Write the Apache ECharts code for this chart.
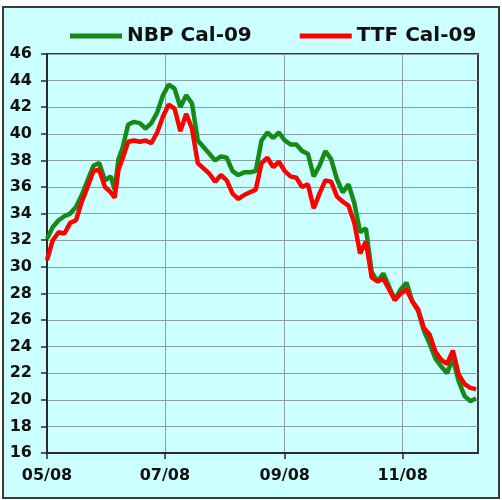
<!DOCTYPE html>
<html>
<head>
<meta charset="utf-8">
<script src="https://cdn.jsdelivr.net/npm/echarts@6/dist/echarts.min.js"></script>
<style>
  html, body { margin: 0; padding: 0; background: #ffffff; }
  #wrap { position: relative; width: 502px; height: 500px; background: #ffffff; }
  #frame { position: absolute; left: 2px; top: 6px; width: 494px; height: 489px;
           background: #ccffff; border: 2px solid #3a3a3a; }
  #chart { position: absolute; left: 0; top: 0; width: 502px; height: 500px; }
</style>
</head>
<body>
<div id="wrap">
  <div id="frame"></div>
  <div id="chart"></div>
</div>
<script>
// Forward prices for calendar-2009 gas, NBP vs TTF
const dates = [
  '2008-05-01','2008-05-04','2008-05-07','2008-05-10','2008-05-13','2008-05-16','2008-05-19','2008-05-22',
  '2008-05-25','2008-05-28','2008-05-31','2008-06-03','2008-06-05','2008-06-07','2008-06-09','2008-06-12',
  '2008-06-15','2008-06-18','2008-06-21','2008-06-24','2008-06-27','2008-06-30','2008-07-03','2008-07-06',
  '2008-07-09','2008-07-12','2008-07-15','2008-07-18','2008-07-21','2008-07-24','2008-07-27','2008-07-30',
  '2008-08-02','2008-08-05','2008-08-08','2008-08-11','2008-08-14','2008-08-17','2008-08-20','2008-08-23',
  '2008-08-26','2008-08-29','2008-09-01','2008-09-04','2008-09-07','2008-09-10','2008-09-13','2008-09-16',
  '2008-09-19','2008-09-22','2008-09-25','2008-09-28','2008-10-01','2008-10-04','2008-10-07','2008-10-10',
  '2008-10-13','2008-10-16','2008-10-19','2008-10-22','2008-10-25','2008-10-28','2008-10-31','2008-11-03',
  '2008-11-06','2008-11-09','2008-11-12','2008-11-15','2008-11-18','2008-11-21','2008-11-24','2008-11-27',
  '2008-11-30','2008-12-03','2008-12-06','2008-12-09'
];

const nbp = [
  32.1, 33.0, 33.5, 33.8, 34.0, 34.5, 35.4, 36.5,
  37.6, 37.8, 36.5, 36.8, 35.8, 38.1, 38.9, 40.7,
  40.9, 40.8, 40.4, 40.8, 41.6, 42.9, 43.7, 43.4,
  42.0, 42.9, 42.3, 39.5, 39.0, 38.5, 38.0, 38.3,
  38.2, 37.2, 36.9, 37.1, 37.1, 37.2, 39.5, 40.1,
  39.7, 40.1, 39.5, 39.2, 39.2, 38.7, 38.5, 36.8,
  37.6, 38.7, 38.1, 36.6, 35.6, 36.2, 34.8, 32.6,
  32.9, 29.6, 28.9, 29.5, 28.5, 27.5, 28.3, 28.8,
  27.4, 26.7, 25.2, 24.2, 23.1, 22.5, 22.0, 23.1,
  21.4, 20.3, 19.9, 20.1
];

const ttf = [
  30.5, 32.0, 32.6, 32.5, 33.3, 33.5, 34.9, 36.0,
  37.2, 37.3, 36.0, 35.6, 35.2, 37.3, 38.1, 39.4,
  39.5, 39.4, 39.5, 39.3, 40.1, 41.3, 42.2, 41.9,
  40.2, 41.5, 40.4, 37.8, 37.4, 37.0, 36.4, 36.9,
  36.5, 35.5, 35.1, 35.4, 35.6, 35.8, 37.8, 38.2,
  37.5, 37.9, 37.2, 36.8, 36.7, 36.0, 36.2, 34.4,
  35.5, 36.5, 36.4, 35.3, 34.9, 34.6, 33.3, 31.0,
  31.9, 29.2, 28.9, 29.1, 28.3, 27.5, 28.0, 28.3,
  27.4, 26.8, 25.4, 24.9, 23.6, 23.0, 22.7, 23.7,
  21.9, 21.2, 20.9, 20.8
];

const seriesNames = ['NBP Cal-09', 'TTF Cal-09'];
const tickDates = ['2008-05-01', '2008-07-01', '2008-09-01', '2008-11-01'];
const axisStart = '2008-05-01';
const axisEnd = '2008-12-10';
const yMin = 16, yMax = 46, yStep = 2;

// x positions are whole days counted from the first date on the axis
const DAY = 86400000;
function toUTC(s) {
  const p = s.split('-').map(Number);
  return Date.UTC(p[0], p[1] - 1, p[2]);
}
const t0 = toUTC(axisStart);
function dayOf(s) { return Math.round((toUTC(s) - t0) / DAY); }
function pad2(n) { return (n < 10 ? '0' : '') + n; }
function labelOf(day) {
  const d = new Date(t0 + day * DAY);
  return pad2(d.getUTCMonth() + 1) + '/' + pad2(d.getUTCFullYear() % 100);
}

const tickDays = tickDates.map(dayOf);
const font = 'DejaVu Sans';
const chart = echarts.init(document.getElementById('chart'), null, { renderer: 'canvas' });

chart.setOption({
  animation: false,
  backgroundColor: 'transparent',
  color: ['#168a16', '#ff0000'],
  legend: {
    left: 65,
    top: 21,
    itemWidth: 52,
    itemHeight: 5,
    itemGap: 48,
    icon: 'rect',
    textStyle: { fontFamily: font, fontWeight: 'bold', fontSize: 20, color: '#111111', lineHeight: 20 },
    data: seriesNames
  },
  grid: {
    left: 47, right: 24, top: 54, bottom: 47,
    show: true,
    backgroundColor: '#ccffff',
    borderColor: '#3a3a3a',
    borderWidth: 2
  },
  xAxis: {
    type: 'value',
    min: 0,
    max: dayOf(axisEnd),
    axisLine: { show: true, lineStyle: { color: '#2a2a2a', width: 2 } },
    axisTick: {
      show: true, length: 6, inside: false,
      lineStyle: { color: '#2a2a2a', width: 1.5 },
      customValues: tickDays
    },
    axisLabel: {
      customValues: tickDays,
      margin: 15,
      fontFamily: font, fontWeight: 'bold', fontSize: 16, color: '#111111',
      formatter: function (v) { return labelOf(v); }
    },
    splitLine: { show: true, lineStyle: { color: '#8c9ea4', width: 1 } }
  },
  yAxis: {
    type: 'value',
    min: yMin, max: yMax, interval: yStep,
    axisLine: { show: true, lineStyle: { color: '#2a2a2a', width: 2 } },
    axisTick: { show: true, length: 6, inside: false, lineStyle: { color: '#2a2a2a', width: 1.5 } },
    axisLabel: { margin: 15, fontFamily: font, fontWeight: 'bold', fontSize: 16, color: '#111111' },
    splitLine: { show: true, lineStyle: { color: '#8c9ea4', width: 1 } }
  },
  series: [
    {
      name: seriesNames[0], type: 'line', symbol: 'none', smooth: false,
      lineStyle: { width: 4.5 },
      data: dates.map((d, i) => [dayOf(d), nbp[i]])
    },
    {
      name: seriesNames[1], type: 'line', symbol: 'none', smooth: false,
      lineStyle: { width: 4.5 },
      data: dates.map((d, i) => [dayOf(d), ttf[i]])
    }
  ]
});
</script>
</body>
</html>
